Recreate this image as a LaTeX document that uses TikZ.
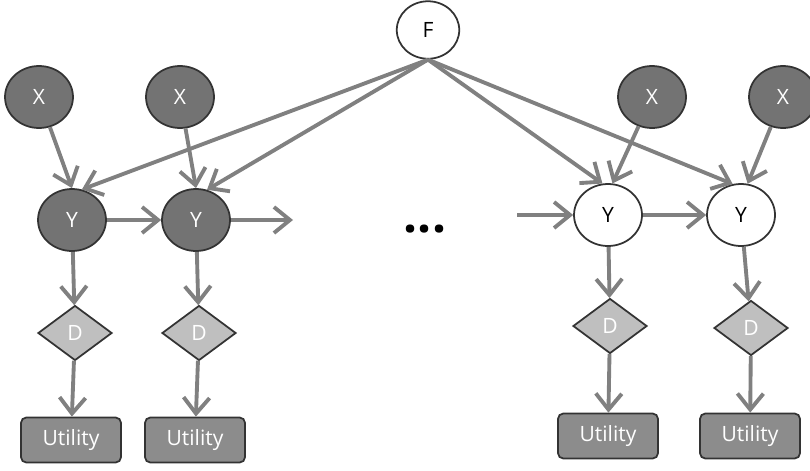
\documentclass[tikz,border=0pt]{standalone}
\usepackage{fontspec}
\setsansfont{Open Sans}
\usetikzlibrary{shapes.geometric,arrows.meta}

\begin{document}
\begin{tikzpicture}[x=0.02cm,y=-0.02cm,
  darknode/.style={ellipse,draw=black!80,fill=black!55,line width=1pt,minimum width=1.36cm,minimum height=1.24cm,inner sep=0pt,text=white,font=\sffamily\large},
  lightnode/.style={darknode,fill=white,text=black},
  decnode/.style={diamond,draw=black!80,fill=black!25,line width=1pt,minimum width=1.48cm,minimum height=1.1cm,inner sep=0pt,text=white,font=\sffamily\large},
  utilnode/.style={rectangle,rounded corners=3pt,draw=black!80,fill=black!45,line width=1pt,minimum width=2cm,minimum height=0.9cm,text=white,font=\sffamily\large},
  arr/.style={draw=black!50,line width=2.2pt,-{Straight Barb[length=3.2mm,width=5.2mm]}}]
\useasboundingbox (0,0) rectangle (810,470);

\coordinate (yout) at (293,220);
\coordinate (yin) at (517,215);

\node[lightnode,minimum width=1.25cm,minimum height=1.15cm] (F) at (428,30) {F};

\node[darknode] (X1) at (39,97) {X};
\node[darknode] (X2) at (180,97) {X};
\node[darknode] (X3) at (652,97) {X};
\node[darknode] (X4) at (783,97) {X};

\node[darknode] (Y1) at (72,220) {Y};
\node[darknode] (Y2) at (196,220) {Y};
\node[lightnode] (Y3) at (608,215) {Y};
\node[lightnode] (Y4) at (741,215) {Y};

\node[font=\sffamily\bfseries\fontsize{28}{28}\selectfont] (dots) at (425,229) {...};

\node[decnode] (D1) at (75,333) {D};
\node[decnode] (D2) at (199,333) {D};
\node[decnode] (D3) at (610,326) {D};
\node[decnode] (D4) at (751,328) {D};

\node[utilnode] (U1) at (71,440) {Utility};
\node[utilnode] (U2) at (195,440) {Utility};
\node[utilnode] (U3) at (608,436) {Utility};
\node[utilnode] (U4) at (750,436) {Utility};

% parents of the Y nodes
\draw[arr] (F.south) -- (Y1.72);
\draw[arr] (F.south) -- (Y2.70);
\draw[arr] (F.south) -- (Y3.100);
\draw[arr] (F.south) -- (Y4.105);
\draw[arr] (X1) -- (Y1.north);
\draw[arr] (X2) -- (Y2.north);
\draw[arr] (X3) -- (Y3.82);
\draw[arr] (X4) -- (Y4.78);

% chain
\draw[arr] (Y1) -- (Y2);
\draw[arr] (Y2) -- (yout);
\draw[arr] (yin) -- (Y3);
\draw[arr] (Y3) -- (Y4);

% decisions and utilities
\draw[arr] (Y1) -- (D1);
\draw[arr] (Y2) -- (D2);
\draw[arr] (Y3) -- (D3);
\draw[arr] (Y4) -- (D4);
\draw[arr] (D1) -- (U1);
\draw[arr] (D2) -- (U2);
\draw[arr] (D3) -- (U3);
\draw[arr] (D4) -- (U4);
\end{tikzpicture}
\end{document}
